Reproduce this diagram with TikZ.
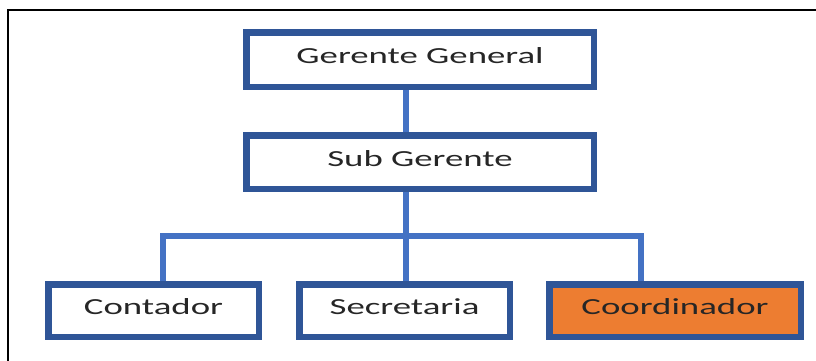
\documentclass[tikz,border=0pt]{standalone}
\usepackage{fontspec}
\setmainfont{Carlito}
\usetikzlibrary{backgrounds}
\definecolor{boxblue}{HTML}{2F5597}
\definecolor{linkblue}{HTML}{4472C4}
\definecolor{boxorange}{HTML}{ED7D31}
\definecolor{txt}{HTML}{262626}
\newcommand{\lbl}[1]{\scalebox{1.6}[1]{#1}}
\tikzset{
  orgbox/.style={draw=boxblue, line width=6.5pt, fill=white, inner sep=0pt,
    text=txt, font=\fontsize{23}{26}\selectfont, text height=17pt, text depth=9pt},
  link/.style={draw=linkblue, line width=5.2pt}
}
\begin{document}
\begin{tikzpicture}[x=1pt,y=-1pt]
\useasboundingbox (0,0) rectangle (816,360);
\draw[black, line width=1.6pt] (8,362) -- (8,10) -- (818,10);
\node[orgbox, minimum width=347.5pt, minimum height=54.5pt] (gg) at (420,59.5) {\lbl{Gerente General}};
\node[orgbox, minimum width=347.5pt, minimum height=53.5pt] (sg) at (420,162) {\lbl{Sub Gerente}};
\node[orgbox, minimum width=210.5pt, minimum height=52.5pt] (co) at (153.5,310.5) {\lbl{Contador}};
\node[orgbox, minimum width=210.5pt, minimum height=52.5pt] (se) at (404.5,310.5) {\lbl{Secretaria}};
\node[orgbox, fill=boxorange, minimum width=251.5pt, minimum height=52.5pt] (cd) at (675,310.5) {\lbl{Coordinador}};
\coordinate (jn) at (406,236);
\coordinate (jl) at (163,236);
\coordinate (jr) at (641,236);
\begin{scope}[on background layer]
\fill[white] (0,0) rectangle (816,360);
\draw[link] (gg.south -| jn) -- (sg.north -| jn);
\draw[link] (sg.south -| jn) -- (jn) -- (se.north -| jn);
\draw[link] (co.north -| jl) -- (jl) -- (jr) -- (cd.north -| jr);
\end{scope}
\end{tikzpicture}
\end{document}
